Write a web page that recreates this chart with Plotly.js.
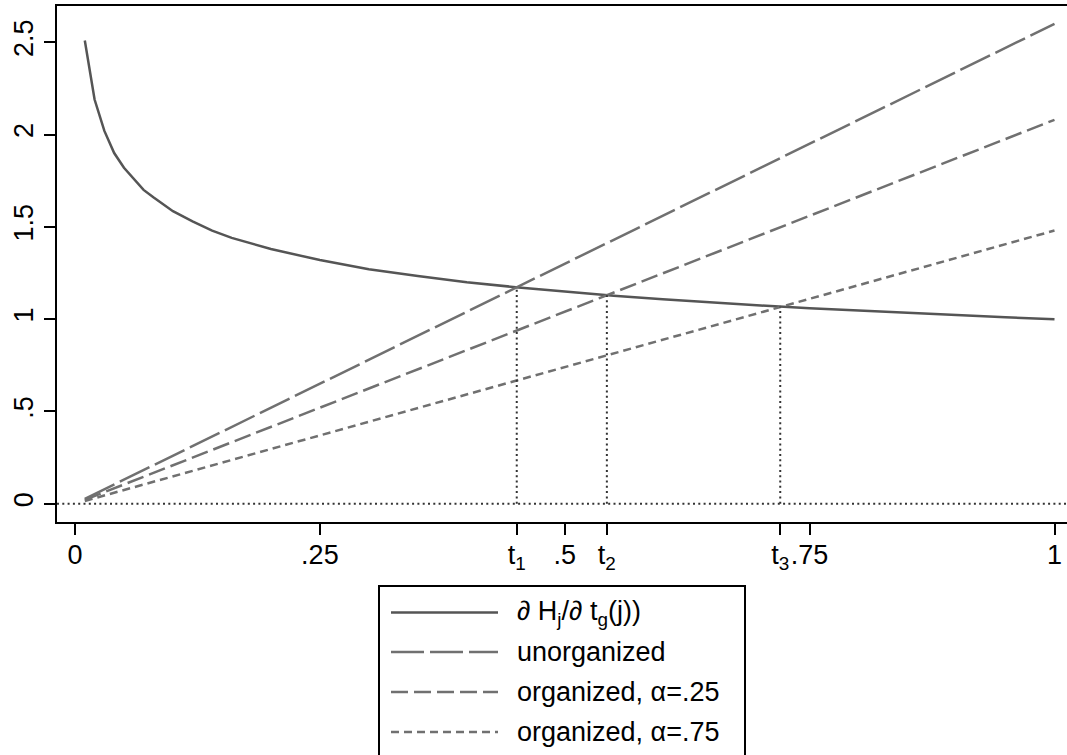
<!DOCTYPE html>
<html>
<head>
<meta charset="utf-8">
<script src="https://cdn.plot.ly/plotly-3.0.1.min.js"></script>
<style>html,body{margin:0;padding:0;background:#fff;}#chart{width:1067px;height:755px;}</style>
</head>
<body>
<div id="chart"></div>
<script>
// ---- data ----
const tGrid = [0.01,0.02,0.03,0.04,0.05,0.06,0.07,0.08,0.09,0.10,0.12,0.14,0.16,0.18,0.20,0.25,0.30,0.35,0.40,0.45,0.50,0.55,0.60,0.65,0.70,0.75,0.80,0.85,0.90,0.95,1.00];
const marginalH = [2.51,2.19,2.02,1.90,1.82,1.76,1.70,1.66,1.62,1.585,1.53,1.48,1.44,1.41,1.38,1.32,1.27,1.234,1.20,1.173,1.149,1.127,1.108,1.09,1.074,1.059,1.046,1.033,1.021,1.01,1.00];
const lineX = [0.01, 1.0];
const unorganized = [0.026, 2.60];
const organized25 = [0.021, 2.08];
const organized75 = [0.015, 1.48];
const crossT = [0.451, 0.543, 0.72];
const crossH = [1.174, 1.130, 1.068];
const seriesNames = ["\u2202 H<sub>j</sub>/\u2202 t<sub>g</sub>(j))", "unorganized", "organized, \u03B1=.25", "organized, \u03B1=.75"];
const xTickVals = [0, 0.25, 0.451, 0.5, 0.543, 0.72, 0.75, 1];
const xTickText = ["0", ".25", "t<sub>1</sub>", ".5", "t<sub>2</sub>", "t<sub>3</sub>", ".75", "1"];
const yTickVals = [0, 0.5, 1, 1.5, 2, 2.5];
const yTickText = ["0", ".5", "1", "1.5", "2", "2.5"];

// ---- styles ----
const FONT = "Liberation Sans, Arial, Helvetica, sans-serif";
const styles = [
  {color: "#555555", dash: "solid"},
  {color: "#707070", dash: "33px,6px"},
  {color: "#707070", dash: "17px,6px"},
  {color: "#707070", dash: "8px,5px"}
];
const LW = 2.5;
const dotStyle = {color: "#333333", width: 2, dash: "2px,3.3px"};

const W = 1067, H = 755;
const M = {l: 57, r: 0, t: 6, b: 233};
const PW = W - M.l - M.r, PH = H - M.t - M.b;
const px2x = x => (x - M.l) / PW;
const py2y = y => (H - M.b - y) / PH;

const seriesY = [marginalH, unorganized, organized25, organized75];
const seriesX = [tGrid, lineX, lineX, lineX];

const traces = [];
for (let i = 0; i < seriesY.length; i++) {
  traces.push({
    x: seriesX[i], y: seriesY[i], type: "scatter", mode: "lines",
    name: seriesNames[i], showlegend: false, hoverinfo: "skip",
    line: {color: styles[i].color, width: LW, dash: styles[i].dash}
  });
}
for (let i = 0; i < crossT.length; i++) {
  traces.push({
    x: [crossT[i], crossT[i]], y: [0, crossH[i]], type: "scatter", mode: "lines",
    showlegend: false, hoverinfo: "skip", line: dotStyle
  });
}

const shapes = [
  {type: "line", xref: "paper", yref: "y", x0: 0, x1: 1, y0: 0, y1: 0, line: dotStyle, layer: "below"},
  {type: "rect", xref: "paper", yref: "paper", x0: px2x(379), x1: px2x(745), y0: py2y(586), y1: py2y(790),
   line: {color: "#000", width: 2}, fillcolor: "rgba(0,0,0,0)"}
];
const annotations = [];
const rowY = [612.5, 652, 692, 732];
for (let i = 0; i < seriesNames.length; i++) {
  shapes.push({type: "line", xref: "paper", yref: "paper",
    x0: px2x(391), x1: px2x(498), y0: py2y(rowY[i]), y1: py2y(rowY[i]),
    line: {color: styles[i].color, width: LW, dash: styles[i].dash}});
  annotations.push({xref: "paper", yref: "paper", x: px2x(515), y: py2y(rowY[i]),
    xanchor: "left", yanchor: "middle", showarrow: false, text: seriesNames[i],
    font: {family: FONT, size: 27, color: "#000"}});
}

const xmin = (M.l - 75) / 979.5, xmax = (W - 75) / 979.5;
const y0px = 503.7, ppu = 184.56;
const ymax = (y0px - M.t) / ppu, ymin = -((H - M.b) - y0px) / ppu;

const layout = {
  width: W, height: H, margin: M, paper_bgcolor: "#fff", plot_bgcolor: "#fff",
  showlegend: false, hovermode: false,
  font: {family: FONT, size: 27, color: "#000"},
  xaxis: {range: [xmin, xmax], tickvals: xTickVals, ticktext: xTickText, tickangle: 0,
    showgrid: false, zeroline: false, showline: true, linecolor: "#000", linewidth: 2, mirror: true,
    ticks: "outside", ticklen: 11, tickwidth: 2, tickcolor: "#000", ticklabelstandoff: -3,
    tickfont: {family: FONT, size: 27, color: "#000"}},
  yaxis: {range: [ymin, ymax], tickvals: yTickVals, ticktext: yTickText, tickangle: -90,
    showgrid: false, zeroline: false, showline: true, linecolor: "#000", linewidth: 2,
    ticks: "outside", ticklen: 11, tickwidth: 2, tickcolor: "#000",
    tickfont: {family: FONT, size: 27, color: "#000"}},
  shapes: shapes, annotations: annotations
};

Plotly.newPlot("chart", traces, layout, {staticPlot: true, displayModeBar: false});
</script>
</body>
</html>
